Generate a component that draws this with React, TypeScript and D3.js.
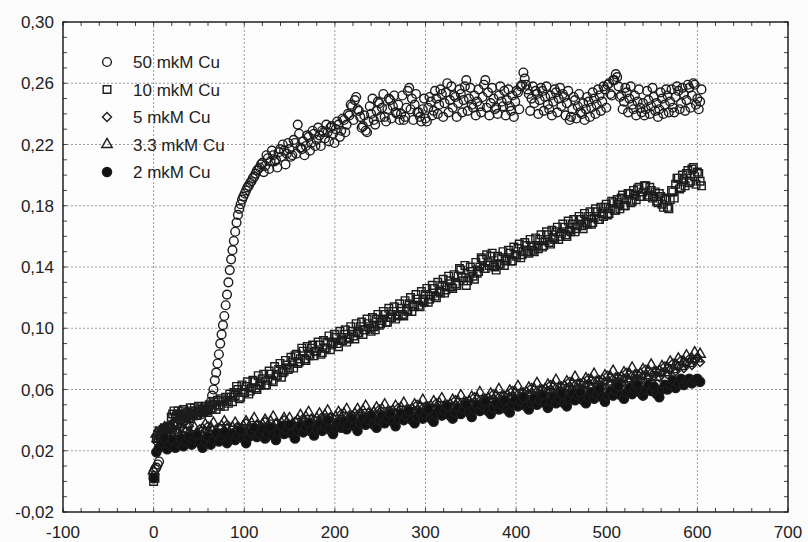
import React from 'react';
import * as d3 from 'd3';

const W = 808;
const H = 542;
const PL = 63, PR = 788, PT = 22, PB = 512;

const xTicks = [-100, 0, 100, 200, 300, 400, 500, 600, 700];
const xTickLabels = ['-100', '0', '100', '200', '300', '400', '500', '600', '700'];
const yTicks = [-0.02, 0.02, 0.06, 0.10, 0.14, 0.18, 0.22, 0.26, 0.30];
const yTickLabels = ['-0,02', '0,02', '0,06', '0,10', '0,14', '0,18', '0,22', '0,26', '0,30'];

const seriesNames = ['50 mkM Cu', '10 mkM Cu', '5 mkM Cu', '3.3 mkM Cu', '2 mkM Cu'];
const seriesSymbols = ['circle', 'square', 'diamond', 'triangle', 'filled'];

const times = [
  0,3,6,9,12,15,18,21,24,27,
  30,33,36,39,42,45,48,51,54,57,
  60,63,66,69,72,75,78,81,84,87,
  90,93,96,99,102,105,108,111,114,117,
  120,123,126,129,132,135,138,141,144,147,
  150,153,156,159,162,165,168,171,174,177,
  180,183,186,189,192,195,198,201,204,207,
  210,213,216,219,222,225,228,231,234,237,
  240,243,246,249,252,255,258,261,264,267,
  270,273,276,279,282,285,288,291,294,297,
  300,303,306,309,312,315,318,321,324,327,
  330,333,336,339,342,345,348,351,354,357,
  360,363,366,369,372,375,378,381,384,387,
  390,393,396,399,402,405,408,411,414,417,
  420,423,426,429,432,435,438,441,444,447,
  450,453,456,459,462,465,468,471,474,477,
  480,483,486,489,492,495,498,501,504,507,
  510,513,516,519,522,525,528,531,534,537,
  540,543,546,549,552,555,558,561,564,567,
  570,573,576,579,582,585,588,591,594,597,
  600,603,
];

const midTimes = [
  1.5,4.5,7.5,10.5,13.5,16.5,19.5,22.5,25.5,28.5,
  31.5,34.5,37.5,40.5,43.5,46.5,49.5,52.5,55.5,58.5,
  61.5,64.5,67.5,70.5,73.5,76.5,79.5,82.5,85.5,88.5,
  91.5,94.5,97.5,100.5,103.5,106.5,109.5,112.5,115.5,118.5,
  121.5,124.5,127.5,130.5,133.5,136.5,139.5,142.5,145.5,148.5,
  151.5,154.5,157.5,160.5,163.5,166.5,169.5,172.5,175.5,178.5,
  181.5,184.5,187.5,190.5,193.5,196.5,199.5,202.5,205.5,208.5,
  211.5,214.5,217.5,220.5,223.5,226.5,229.5,232.5,235.5,238.5,
  241.5,244.5,247.5,250.5,253.5,256.5,259.5,262.5,265.5,268.5,
  271.5,274.5,277.5,280.5,283.5,286.5,289.5,292.5,295.5,298.5,
  301.5,304.5,307.5,310.5,313.5,316.5,319.5,322.5,325.5,328.5,
  331.5,334.5,337.5,340.5,343.5,346.5,349.5,352.5,355.5,358.5,
  361.5,364.5,367.5,370.5,373.5,376.5,379.5,382.5,385.5,388.5,
  391.5,394.5,397.5,400.5,403.5,406.5,409.5,412.5,415.5,418.5,
  421.5,424.5,427.5,430.5,433.5,436.5,439.5,442.5,445.5,448.5,
  451.5,454.5,457.5,460.5,463.5,466.5,469.5,472.5,475.5,478.5,
  481.5,484.5,487.5,490.5,493.5,496.5,499.5,502.5,505.5,508.5,
  511.5,514.5,517.5,520.5,523.5,526.5,529.5,532.5,535.5,538.5,
  541.5,544.5,547.5,550.5,553.5,556.5,559.5,562.5,565.5,568.5,
  571.5,574.5,577.5,580.5,583.5,586.5,589.5,592.5,595.5,598.5,
  601.5,604.5,
];

const cu50 = [
  0.006,0.009,0.013,0.030,0.033,0.035,0.034,0.037,0.039,0.038,
  0.040,0.039,0.041,0.043,0.042,0.044,0.043,0.045,0.044,0.046,
  0.047,0.052,0.060,0.071,0.083,0.096,0.108,0.122,0.138,0.151,
  0.163,0.174,0.181,0.186,0.190,0.193,0.196,0.199,0.203,0.205,
  0.208,0.206,0.211,0.209,0.213,0.210,0.215,0.212,0.216,0.214,
  0.217,0.213,0.221,0.233,0.218,0.222,0.219,0.225,0.221,0.227,
  0.223,0.226,0.229,0.224,0.228,0.231,0.227,0.230,0.233,0.229,
  0.236,0.233,0.239,0.245,0.249,0.243,0.238,0.232,0.229,0.235,
  0.240,0.236,0.242,0.247,0.244,0.238,0.243,0.249,0.245,0.241,
  0.246,0.240,0.236,0.244,0.257,0.250,0.246,0.241,0.238,0.243,
  0.237,0.244,0.248,0.242,0.250,0.246,0.253,0.247,0.260,0.249,
  0.244,0.251,0.247,0.253,0.249,0.262,0.250,0.246,0.252,0.248,
  0.245,0.251,0.262,0.254,0.247,0.250,0.244,0.252,0.248,0.255,
  0.249,0.245,0.252,0.248,0.254,0.258,0.267,0.259,0.253,0.250,
  0.247,0.253,0.249,0.255,0.251,0.246,0.252,0.248,0.254,0.250,
  0.245,0.251,0.247,0.236,0.243,0.249,0.245,0.241,0.247,0.243,
  0.248,0.244,0.250,0.246,0.252,0.248,0.256,0.259,0.253,0.262,
  0.266,0.258,0.252,0.248,0.254,0.250,0.246,0.252,0.248,0.244,
  0.247,0.243,0.249,0.245,0.251,0.247,0.243,0.250,0.246,0.252,
  0.248,0.244,0.251,0.255,0.247,0.253,0.249,0.257,0.252,0.259,
  0.250,0.248,
];

const cu50Mid = [
  0.008,0.011,0.028,0.032,0.034,0.036,0.035,0.038,0.037,0.040,
  0.041,0.040,0.042,0.044,0.043,0.045,0.044,0.046,0.045,0.047,
  0.049,0.056,0.066,0.077,0.090,0.102,0.115,0.130,0.145,0.157,
  0.169,0.178,0.184,0.188,0.192,0.195,0.198,0.201,0.204,0.207,
  0.202,0.213,0.204,0.216,0.209,0.205,0.217,0.220,0.207,0.221,
  0.212,0.223,0.214,0.227,0.217,0.213,0.226,0.216,0.229,0.219,
  0.231,0.219,0.228,0.233,0.222,0.232,0.221,0.235,0.225,0.237,
  0.228,0.240,0.246,0.236,0.251,0.242,0.231,0.239,0.228,0.245,
  0.250,0.233,0.248,0.238,0.253,0.235,0.250,0.237,0.252,0.240,
  0.236,0.252,0.238,0.255,0.243,0.236,0.253,0.241,0.235,0.250,
  0.235,0.251,0.239,0.255,0.240,0.256,0.238,0.254,0.241,0.258,
  0.252,0.238,0.256,0.241,0.258,0.242,0.257,0.244,0.239,0.256,
  0.241,0.259,0.244,0.239,0.257,0.243,0.240,0.258,0.245,0.239,
  0.256,0.242,0.238,0.255,0.243,0.259,0.263,0.256,0.242,0.258,
  0.255,0.240,0.257,0.242,0.258,0.243,0.239,0.256,0.241,0.257,
  0.253,0.239,0.255,0.238,0.251,0.237,0.253,0.240,0.236,0.251,
  0.238,0.254,0.240,0.256,0.242,0.258,0.244,0.260,0.252,0.262,
  0.264,0.251,0.243,0.257,0.241,0.258,0.243,0.239,0.256,0.241,
  0.239,0.255,0.240,0.257,0.242,0.238,0.254,0.240,0.256,0.241,
  0.256,0.241,0.258,0.243,0.257,0.242,0.259,0.244,0.260,0.246,
  0.243,0.256,
];

const cu10 = [
  0.000,0.028,0.033,0.030,0.035,0.032,0.036,0.044,0.041,0.046,
  0.043,0.047,0.044,0.041,0.046,0.048,0.043,0.047,0.045,0.049,
  0.045,0.048,0.052,0.047,0.050,0.054,0.049,0.053,0.057,0.052,
  0.056,0.060,0.055,0.058,0.062,0.057,0.061,0.065,0.060,0.063,
  0.067,0.063,0.066,0.070,0.065,0.069,0.073,0.068,0.072,0.076,
  0.074,0.078,0.082,0.077,0.080,0.085,0.079,0.083,0.087,0.082,
  0.085,0.089,0.084,0.087,0.091,0.086,0.090,0.094,0.088,0.092,
  0.096,0.091,0.094,0.098,0.093,0.097,0.101,0.096,0.099,0.103,
  0.098,0.101,0.106,0.102,0.105,0.109,0.104,0.107,0.111,0.106,
  0.109,0.113,0.108,0.112,0.116,0.111,0.115,0.119,0.114,0.118,
  0.122,0.117,0.121,0.126,0.120,0.124,0.128,0.123,0.127,0.131,
  0.126,0.129,0.134,0.138,0.131,0.128,0.133,0.137,0.132,0.136,
  0.140,0.145,0.139,0.143,0.147,0.141,0.138,0.142,0.146,0.141,
  0.145,0.149,0.144,0.148,0.152,0.146,0.150,0.154,0.149,0.153,
  0.150,0.154,0.158,0.153,0.157,0.161,0.155,0.159,0.163,0.158,
  0.162,0.166,0.160,0.164,0.168,0.163,0.167,0.171,0.165,0.169,
  0.173,0.168,0.172,0.176,0.171,0.175,0.179,0.174,0.178,0.182,
  0.177,0.181,0.185,0.180,0.184,0.188,0.183,0.187,0.191,0.186,
  0.189,0.193,0.187,0.190,0.186,0.183,0.188,0.181,0.185,0.179,
  0.184,0.189,0.194,0.198,0.192,0.197,0.201,0.195,0.204,0.199,
  0.202,0.196,
];

const cu10Mid = [
  0.002,0.031,0.030,0.034,0.031,0.035,0.042,0.046,0.043,0.044,
  0.046,0.042,0.045,0.048,0.044,0.046,0.049,0.045,0.048,0.046,
  0.050,0.047,0.050,0.053,0.049,0.052,0.055,0.051,0.055,0.058,
  0.062,0.054,0.063,0.058,0.065,0.059,0.066,0.061,0.069,0.063,
  0.070,0.063,0.072,0.066,0.075,0.069,0.077,0.071,0.079,0.073,
  0.081,0.074,0.083,0.078,0.087,0.080,0.088,0.082,0.089,0.085,
  0.091,0.083,0.092,0.087,0.095,0.089,0.096,0.090,0.098,0.092,
  0.099,0.093,0.101,0.095,0.103,0.097,0.104,0.099,0.106,0.100,
  0.107,0.099,0.109,0.103,0.111,0.104,0.113,0.107,0.114,0.108,
  0.116,0.109,0.118,0.111,0.120,0.114,0.122,0.115,0.124,0.117,
  0.126,0.119,0.128,0.121,0.130,0.123,0.132,0.125,0.134,0.127,
  0.135,0.128,0.139,0.133,0.141,0.131,0.140,0.134,0.143,0.137,
  0.146,0.139,0.148,0.141,0.149,0.140,0.147,0.142,0.150,0.144,
  0.151,0.144,0.153,0.147,0.155,0.148,0.156,0.150,0.158,0.151,
  0.159,0.152,0.161,0.154,0.163,0.156,0.164,0.158,0.166,0.160,
  0.168,0.161,0.170,0.163,0.171,0.165,0.173,0.167,0.175,0.168,
  0.176,0.169,0.178,0.171,0.179,0.173,0.181,0.175,0.183,0.177,
  0.184,0.178,0.187,0.180,0.188,0.182,0.190,0.184,0.192,0.186,
  0.193,0.186,0.192,0.185,0.189,0.182,0.186,0.179,0.184,0.178,
  0.190,0.185,0.198,0.191,0.200,0.193,0.203,0.196,0.205,0.194,
  0.201,0.193,
];

const cu5 = [
  0.004,0.026,0.030,0.034,0.028,0.031,0.035,0.029,0.027,0.032,
  0.035,0.030,0.033,0.036,0.029,0.027,0.031,0.034,0.030,0.033,
  0.036,0.031,0.028,0.032,0.035,0.030,0.033,0.037,0.032,0.029,
  0.033,0.036,0.031,0.034,0.038,0.033,0.030,0.034,0.037,0.032,
  0.035,0.039,0.034,0.031,0.035,0.038,0.033,0.036,0.040,0.035,
  0.032,0.036,0.039,0.035,0.038,0.041,0.036,0.033,0.037,0.040,
  0.036,0.039,0.042,0.037,0.034,0.038,0.041,0.037,0.040,0.044,
  0.039,0.036,0.040,0.043,0.038,0.041,0.045,0.040,0.037,0.041,
  0.044,0.040,0.043,0.047,0.042,0.039,0.043,0.046,0.041,0.044,
  0.048,0.043,0.040,0.044,0.047,0.043,0.046,0.050,0.045,0.042,
  0.046,0.049,0.044,0.047,0.051,0.046,0.043,0.047,0.050,0.046,
  0.049,0.053,0.048,0.045,0.049,0.052,0.048,0.051,0.055,0.050,
  0.047,0.051,0.054,0.050,0.053,0.057,0.052,0.049,0.053,0.056,
  0.052,0.055,0.059,0.054,0.051,0.055,0.058,0.054,0.057,0.061,
  0.056,0.053,0.057,0.060,0.056,0.059,0.063,0.058,0.055,0.059,
  0.062,0.058,0.061,0.065,0.060,0.057,0.061,0.064,0.060,0.063,
  0.067,0.062,0.059,0.063,0.066,0.062,0.065,0.069,0.064,0.061,
  0.065,0.068,0.064,0.067,0.071,0.066,0.063,0.067,0.070,0.066,
  0.069,0.073,0.068,0.065,0.069,0.072,0.068,0.071,0.075,0.070,
  0.073,0.077,0.072,0.075,0.079,0.074,0.077,0.080,0.076,0.079,
  0.081,0.078,
];

const cu33 = [
  0.007,0.031,0.028,0.032,0.035,0.030,0.027,0.033,0.036,0.031,
  0.029,0.034,0.037,0.032,0.030,0.035,0.031,0.028,0.034,0.037,
  0.032,0.035,0.038,0.033,0.030,0.036,0.039,0.034,0.031,0.035,
  0.038,0.034,0.031,0.036,0.039,0.035,0.038,0.041,0.036,0.033,
  0.037,0.040,0.036,0.039,0.042,0.037,0.034,0.038,0.041,0.038,
  0.041,0.037,0.035,0.040,0.043,0.039,0.042,0.045,0.040,0.037,
  0.041,0.044,0.040,0.043,0.046,0.041,0.038,0.042,0.045,0.041,
  0.044,0.047,0.042,0.039,0.044,0.047,0.043,0.046,0.049,0.044,
  0.041,0.045,0.048,0.044,0.047,0.050,0.045,0.042,0.046,0.049,
  0.045,0.048,0.051,0.046,0.043,0.047,0.050,0.046,0.049,0.053,
  0.048,0.045,0.049,0.052,0.048,0.051,0.054,0.049,0.046,0.050,
  0.053,0.049,0.052,0.056,0.051,0.048,0.052,0.055,0.051,0.054,
  0.058,0.053,0.050,0.054,0.057,0.053,0.056,0.060,0.055,0.052,
  0.056,0.059,0.055,0.058,0.062,0.057,0.054,0.058,0.061,0.057,
  0.060,0.064,0.059,0.056,0.060,0.063,0.059,0.062,0.066,0.061,
  0.058,0.062,0.065,0.061,0.064,0.068,0.063,0.060,0.064,0.067,
  0.063,0.066,0.070,0.065,0.062,0.066,0.069,0.065,0.068,0.072,
  0.067,0.064,0.068,0.071,0.067,0.070,0.074,0.069,0.066,0.070,
  0.073,0.069,0.072,0.076,0.071,0.068,0.072,0.075,0.071,0.074,
  0.078,0.073,0.076,0.080,0.075,0.078,0.082,0.077,0.080,0.084,
  0.080,0.083,
];

const cu2 = [
  0.002,0.019,0.022,0.025,0.028,0.021,0.024,0.027,0.022,0.025,
  0.028,0.023,0.026,0.029,0.024,0.027,0.030,0.025,0.022,0.026,
  0.029,0.024,0.027,0.031,0.026,0.029,0.032,0.025,0.028,0.031,
  0.027,0.030,0.033,0.028,0.025,0.029,0.032,0.035,0.029,0.031,
  0.034,0.028,0.031,0.035,0.030,0.027,0.032,0.036,0.031,0.034,
  0.037,0.031,0.028,0.033,0.036,0.032,0.035,0.038,0.033,0.030,
  0.034,0.037,0.033,0.036,0.040,0.034,0.031,0.035,0.038,0.035,
  0.039,0.034,0.037,0.041,0.036,0.033,0.038,0.041,0.037,0.040,
  0.043,0.037,0.035,0.040,0.043,0.038,0.041,0.044,0.039,0.036,
  0.041,0.044,0.040,0.043,0.046,0.040,0.038,0.042,0.045,0.041,
  0.044,0.047,0.041,0.039,0.044,0.047,0.043,0.046,0.049,0.043,
  0.041,0.045,0.048,0.044,0.047,0.050,0.045,0.042,0.047,0.050,
  0.046,0.049,0.052,0.046,0.044,0.048,0.051,0.047,0.050,0.053,
  0.047,0.045,0.050,0.053,0.049,0.052,0.055,0.049,0.047,0.051,
  0.054,0.050,0.053,0.056,0.051,0.048,0.052,0.055,0.051,0.054,
  0.057,0.051,0.049,0.054,0.057,0.053,0.056,0.058,0.053,0.051,
  0.055,0.058,0.054,0.057,0.060,0.055,0.052,0.056,0.059,0.056,
  0.059,0.062,0.056,0.054,0.058,0.061,0.057,0.060,0.063,0.058,
  0.056,0.060,0.063,0.059,0.062,0.057,0.055,0.060,0.063,0.060,
  0.063,0.066,0.061,0.064,0.067,0.063,0.065,0.067,0.064,0.066,
  0.067,0.065,
];

const x = d3.scaleLinear().domain([-100, 700]).range([PL, PR]);
const y = d3.scaleLinear().domain([-0.02, 0.30]).range([PB, PT]);

const squareDiamond = {
  draw(ctx: any, size: number) {
    const r = Math.sqrt(size / 2);
    ctx.moveTo(0, -r);
    ctx.lineTo(r, 0);
    ctx.lineTo(0, r);
    ctx.lineTo(-r, 0);
    ctx.closePath();
  },
};

const symbolPaths: Record<string, string> = {
  circle: d3.symbol().type(d3.symbolCircle).size(60)() as string,
  square: d3.symbol().type(d3.symbolSquare).size(58)() as string,
  diamond: d3.symbol().type(squareDiamond as any).size(40)() as string,
  triangle: d3.symbol().type(d3.symbolTriangle).size(48)() as string,
  filled: d3.symbol().type(d3.symbolCircle).size(66)() as string,
};

function buildPoints(ts: number[], vs: number[]) {
  const n = Math.min(ts.length, vs.length);
  const out: [number, number][] = [];
  for (let i = 0; i < n; i++) out.push([ts[i], vs[i]]);
  return out;
}

const seriesData: [number, number][][] = [
  buildPoints(times, cu50).concat(buildPoints(midTimes, cu50Mid)),
  buildPoints(times, cu10).concat(buildPoints(midTimes, cu10Mid)),
  buildPoints(times, cu5),
  buildPoints(times, cu33),
  buildPoints(times, cu2),
];

const FONT = '"Liberation Sans", Arial, sans-serif';
const STROKE = '#1c1c1c';

function Marker({ kind, cx, cy }: { kind: string; cx: number; cy: number }) {
  const filled = kind === 'filled';
  return (
    <path
      d={symbolPaths[kind]}
      transform={`translate(${cx},${cy})`}
      fill={filled ? '#121212' : 'none'}
      stroke={STROKE}
      strokeWidth={1.4}
    />
  );
}

export default function App() {
  const xMinor = d3.range(-100, 701, 20);
  const yMinor = d3.range(-0.02, 0.3001, 0.01);
  const tickLen = 4;
  return (
    <div style={{ position: 'absolute', left: 0, top: 0 }}>
      <svg width={W} height={H} style={{ display: 'block', background: '#fbfbfb' }}>
        <rect x={PL} y={PT} width={PR - PL} height={PB - PT} fill="#fdfdfd" />
        {xTicks.slice(1, -1).map((t) => (
          <line key={'gx' + t} x1={x(t)} x2={x(t)} y1={PT} y2={PB} stroke="#9a9a9a" strokeWidth={1} strokeDasharray="2,2" />
        ))}
        {yTicks.slice(1, -1).map((t) => (
          <line key={'gy' + t} x1={PL} x2={PR} y1={y(t)} y2={y(t)} stroke="#9a9a9a" strokeWidth={1} strokeDasharray="2,2" />
        ))}
        {xMinor.map((t) => (
          <g key={'mx' + t}>
            <line x1={x(t)} x2={x(t)} y1={PB} y2={PB - tickLen} stroke="#444" strokeWidth={1} />
            <line x1={x(t)} x2={x(t)} y1={PT} y2={PT + tickLen} stroke="#444" strokeWidth={1} />
          </g>
        ))}
        {yMinor.map((t, i) => (
          <g key={'my' + i}>
            <line x1={PL} x2={PL + tickLen} y1={y(t)} y2={y(t)} stroke="#444" strokeWidth={1} />
            <line x1={PR} x2={PR - tickLen} y1={y(t)} y2={y(t)} stroke="#444" strokeWidth={1} />
          </g>
        ))}
        {seriesData.map((pts, si) => (
          <g key={'s' + si}>
            {pts.map(([t, v], i) => (
              <Marker key={i} kind={seriesSymbols[si]} cx={x(t)} cy={y(v)} />
            ))}
          </g>
        ))}
        <rect x={PL} y={PT} width={PR - PL} height={PB - PT} fill="none" stroke="#111" strokeWidth={1.4} />
        {xTicks.map((t, i) => (
          <text key={'xl' + t} x={x(t)} y={538} textAnchor="middle" fontFamily={FONT} fontSize={17} fill="#222">
            {xTickLabels[i]}
          </text>
        ))}
        {yTicks.map((t, i) => (
          <text key={'yl' + t} x={54} y={y(t) + 6} textAnchor="end" fontFamily={FONT} fontSize={17} fill="#222">
            {yTickLabels[i]}
          </text>
        ))}
        {seriesNames.map((name, i) => {
          const ly = 62 + i * 27.5;
          return (
            <g key={'lg' + i}>
              <Marker kind={seriesSymbols[i]} cx={107} cy={ly} />
              <text x={133} y={ly + 6} fontFamily={FONT} fontSize={17} fill="#222">
                {name}
              </text>
            </g>
          );
        })}
      </svg>
    </div>
  );
}
